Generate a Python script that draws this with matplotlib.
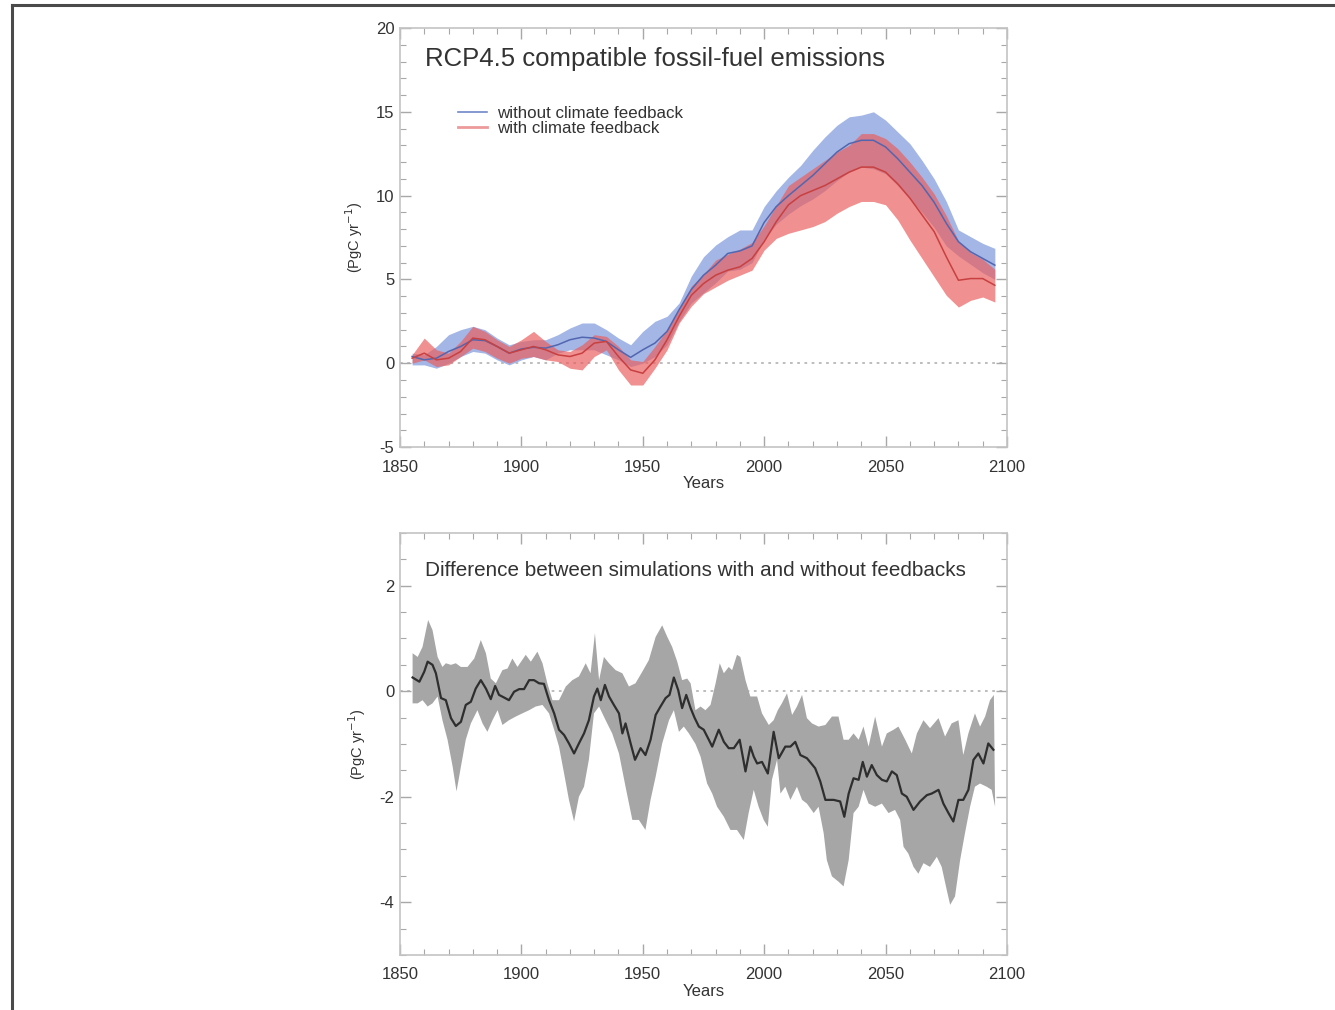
import numpy as np
import matplotlib
matplotlib.use("Agg")
import matplotlib.pyplot as plt
from matplotlib.lines import Line2D
from matplotlib.ticker import MultipleLocator

plt.rcParams['font.family'] = ['Liberation Sans', 'DejaVu Sans']
plt.rcParams['axes.unicode_minus'] = False

# Emisiones compatibles RCP4.5 (PgC/yr), cada 5 años
years = np.arange(1855, 2096, 5)

blue_mean = [0.4, 0.2, 0.3, 0.7, 1.0, 1.4, 1.35, 1.0, 0.6, 0.85,
             0.95, 0.9, 1.1, 1.4, 1.55, 1.5, 1.3, 0.8, 0.35, 0.8,
             1.2, 1.9, 3.2, 4.4, 5.25, 5.85, 6.55, 6.7, 7.0, 8.4,
             9.35, 10.0, 10.6, 11.2, 11.9, 12.6, 13.1, 13.3, 13.3, 12.9,
             12.2, 11.4, 10.6, 9.6, 8.35, 7.25, 6.65, 6.25, 5.85]
blue_hi = [0.6, 0.5, 1.0, 1.7, 2.0, 2.2, 2.0, 1.5, 1.1, 1.3,
           1.4, 1.4, 1.7, 2.1, 2.4, 2.4, 2.0, 1.5, 1.1, 1.9,
           2.5, 2.8, 3.6, 5.2, 6.35, 7.05, 7.55, 7.95, 7.95, 9.35,
           10.3, 11.1, 11.8, 12.7, 13.5, 14.2, 14.7, 14.8, 15.0, 14.5,
           13.8, 13.1, 12.1, 11.0, 9.65, 7.95, 7.55, 7.15, 6.85]
blue_lo = [-0.1, -0.1, -0.3, 0.0, 0.4, 0.7, 0.6, 0.2, -0.1, 0.2,
           0.4, 0.2, 0.6, 0.8, 0.8, 0.8, 0.5, 0.2, -0.2, 0.0,
           0.4, 1.1, 2.5, 3.6, 4.2, 4.8, 5.5, 5.6, 6.0, 7.4,
           8.3, 8.9, 9.4, 9.8, 10.3, 10.9, 11.4, 11.7, 11.6, 11.3,
           10.6, 9.8, 9.0, 8.1, 7.0, 6.4, 5.9, 5.4, 5.0]

red_mean = [0.3, 0.6, 0.2, 0.3, 0.7, 1.5, 1.4, 1.0, 0.6, 0.8,
            1.0, 0.8, 0.5, 0.4, 0.6, 1.2, 1.3, 0.4, -0.4, -0.6,
            0.2, 1.4, 2.8, 4.05, 4.75, 5.25, 5.55, 5.75, 6.25, 7.25,
            8.45, 9.45, 10.0, 10.3, 10.6, 11.0, 11.4, 11.7, 11.7, 11.4,
            10.7, 9.85, 8.85, 7.85, 6.35, 4.95, 5.05, 5.05, 4.65]
red_hi = [0.5, 1.5, 0.8, 0.6, 1.3, 2.2, 1.9, 1.4, 1.0, 1.4,
          1.9, 1.3, 0.8, 0.7, 1.1, 1.7, 1.6, 1.0, 0.2, 0.1,
          1.0, 2.0, 3.2, 4.6, 5.3, 6.15, 6.5, 6.8, 7.2, 8.2,
          9.4, 10.6, 11.1, 11.6, 12.1, 12.6, 13.0, 13.7, 13.7, 13.4,
          12.8, 12.0, 11.1, 10.1, 8.8, 7.3, 6.6, 6.2, 5.6]
red_lo = [0.0, 0.2, -0.2, -0.1, 0.4, 0.9, 0.7, 0.3, 0.0, 0.3,
          0.4, 0.2, 0.1, -0.3, -0.4, 0.4, 0.8, -0.4, -1.3, -1.3,
          -0.3, 0.8, 2.4, 3.4, 4.15, 4.55, 4.95, 5.25, 5.55, 6.75,
          7.45, 7.75, 7.95, 8.15, 8.45, 8.95, 9.35, 9.65, 9.65, 9.45,
          8.55, 7.35, 6.25, 5.15, 4.05, 3.35, 3.75, 3.95, 3.65]

# Diferencia con y sin retroalimentación: media
diff_years = [1855.2, 1858.0, 1860.0, 1861.4, 1863.4, 1864.8, 1866.9, 1868.9, 1871.0, 1873.0,
              1875.1, 1877.1, 1879.2, 1881.2, 1883.3, 1885.4, 1887.4, 1889.2, 1890.8, 1892.9,
              1894.9, 1897.0, 1899.1, 1901.1, 1903.2, 1905.2, 1907.3, 1909.3, 1911.4, 1913.5,
              1915.5, 1917.6, 1919.6, 1921.7, 1923.7, 1925.8, 1927.8, 1929.9, 1931.3, 1932.7,
              1934.4, 1936.1, 1938.1, 1940.2, 1941.6, 1942.9, 1945.0, 1946.8, 1949.1, 1951.1,
              1953.2, 1955.3, 1957.3, 1959.4, 1961.0, 1962.8, 1964.6, 1966.2, 1967.9, 1969.7,
              1971.3, 1973.1, 1975.1, 1977.2, 1978.6, 1981.3, 1983.4, 1985.4, 1987.5, 1989.9,
              1992.3, 1994.3, 1995.7, 1997.1, 1999.1, 2001.5, 2003.9, 2006.0, 2008.7, 2010.8,
              2012.8, 2014.9, 2017.6, 2021.0, 2023.1, 2025.2, 2028.6, 2031.3, 2033.0, 2034.8,
              2036.8, 2038.9, 2040.6, 2042.3, 2044.3, 2046.4, 2048.5, 2050.5, 2052.6, 2054.6,
              2056.7, 2058.7, 2061.5, 2064.2, 2067.0, 2069.0, 2071.8, 2073.8, 2075.9, 2077.9,
              2080.0, 2082.0, 2084.1, 2086.2, 2088.2, 2090.3, 2092.3, 2094.4]
diff_mean = [0.26, 0.18, 0.37, 0.56, 0.50, 0.34, -0.13, -0.17, -0.51, -0.66,
             -0.58, -0.26, -0.20, 0.05, 0.21, 0.05, -0.15, 0.10, -0.07, -0.12,
             -0.17, -0.01, 0.04, 0.04, 0.21, 0.21, 0.15, 0.14, -0.17, -0.42,
             -0.73, -0.83, -0.99, -1.18, -0.99, -0.80, -0.55, -0.10, 0.05, -0.17,
             0.12, -0.10, -0.26, -0.42, -0.80, -0.61, -0.99, -1.30, -1.08, -1.21,
             -0.92, -0.45, -0.29, -0.13, -0.07, 0.26, 0.02, -0.32, -0.07, -0.32,
             -0.50, -0.67, -0.73, -0.92, -1.05, -0.73, -0.96, -1.08, -1.08, -0.92,
             -1.52, -1.05, -1.24, -1.37, -1.34, -1.56, -0.77, -1.27, -1.05, -1.05,
             -0.96, -1.21, -1.27, -1.46, -1.71, -2.06, -2.06, -2.09, -2.38, -1.94,
             -1.65, -1.68, -1.34, -1.62, -1.40, -1.59, -1.68, -1.71, -1.52, -1.59,
             -1.94, -2.00, -2.25, -2.09, -1.97, -1.94, -1.87, -2.13, -2.31, -2.47,
             -2.06, -2.06, -1.87, -1.30, -1.18, -1.37, -0.99, -1.11]

# Borde superior de la banda
up_years = [1855.2, 1857.3, 1859.3, 1861.6, 1863.4, 1865.5, 1867.5, 1868.9, 1871.0, 1873.0,
            1875.1, 1877.8, 1880.6, 1883.3, 1885.4, 1887.4, 1889.5, 1892.2, 1894.3, 1896.3,
            1898.4, 1901.8, 1903.9, 1906.6, 1908.7, 1910.7, 1912.8, 1915.5, 1918.3, 1921.0,
            1923.7, 1926.5, 1928.5, 1930.3, 1932.0, 1934.0, 1936.1, 1938.8, 1941.6, 1944.3,
            1947.0, 1949.8, 1952.5, 1955.3, 1958.0, 1960.1, 1962.1, 1964.2, 1966.2, 1968.3,
            1969.7, 1971.7, 1973.8, 1975.8, 1977.9, 1980.0, 1981.7, 1983.4, 1985.4, 1986.8,
            1988.8, 1990.2, 1992.3, 1994.3, 1997.1, 1999.1, 2001.9, 2003.9, 2005.6, 2007.3,
            2009.4, 2011.5, 2013.5, 2015.6, 2017.6, 2019.7, 2022.4, 2025.2, 2027.9, 2030.6,
            2032.7, 2034.8, 2036.8, 2038.9, 2040.9, 2043.0, 2045.7, 2048.5, 2050.5, 2053.3,
            2055.3, 2058.1, 2060.8, 2062.9, 2065.6, 2068.3, 2071.8, 2074.5, 2077.2, 2080.0,
            2082.0, 2084.1, 2086.8, 2088.9, 2091.0, 2093.0, 2094.6]
diff_hi = [0.72, 0.65, 0.84, 1.35, 1.16, 0.65, 0.46, 0.53, 0.50, 0.53,
           0.46, 0.46, 0.62, 0.97, 0.72, 0.24, 0.15, 0.40, 0.43, 0.62,
           0.46, 0.69, 0.56, 0.75, 0.53, 0.15, -0.17, -0.17, 0.09, 0.21,
           0.28, 0.53, 0.34, 1.10, 0.21, 0.65, 0.53, 0.40, 0.34, 0.09,
           0.15, 0.37, 0.59, 1.03, 1.25, 1.03, 0.84, 0.56, 0.21, 0.24,
           0.15, -0.36, -0.29, -0.36, -0.26, 0.15, 0.53, 0.34, 0.46, 0.40,
           0.69, 0.65, 0.21, -0.10, -0.10, -0.42, -0.64, -0.55, -0.36, -0.23,
           -0.04, -0.45, -0.29, -0.07, -0.51, -0.61, -0.67, -0.64, -0.48, -0.48,
           -0.92, -0.92, -0.80, -0.92, -0.67, -1.05, -0.48, -1.05, -0.80, -0.73,
           -0.67, -0.92, -1.18, -0.80, -0.55, -0.70, -0.51, -0.86, -0.61, -0.55,
           -1.21, -0.80, -0.42, -0.67, -0.48, -0.17, -0.07]

# Borde inferior de la banda
lo_years = [1855.2, 1857.3, 1859.3, 1861.4, 1863.4, 1865.5, 1867.5, 1869.6, 1871.7, 1873.3,
            1875.1, 1877.1, 1879.2, 1881.9, 1884.0, 1886.0, 1888.1, 1890.2, 1892.2, 1894.9,
            1897.7, 1900.4, 1903.2, 1905.9, 1908.7, 1911.4, 1913.5, 1915.5, 1917.6, 1919.6,
            1921.7, 1923.7, 1925.8, 1927.8, 1929.9, 1932.0, 1934.7, 1937.4, 1940.2, 1942.9,
            1945.7, 1948.4, 1951.1, 1953.2, 1955.3, 1958.0, 1960.8, 1962.8, 1964.9, 1966.9,
            1969.0, 1971.7, 1973.8, 1976.5, 1978.6, 1980.6, 1983.4, 1986.1, 1988.8, 1991.6,
            1993.6, 1995.7, 1997.7, 1999.8, 2001.5, 2003.2, 2005.3, 2006.7, 2008.7, 2010.8,
            2013.5, 2015.6, 2017.6, 2020.4, 2022.4, 2024.5, 2025.8, 2027.9, 2030.6, 2032.7,
            2034.8, 2036.8, 2038.9, 2040.9, 2043.0, 2045.7, 2048.5, 2051.2, 2053.9, 2056.0,
            2057.4, 2059.4, 2061.5, 2063.5, 2065.6, 2068.3, 2071.1, 2073.1, 2075.2, 2076.6,
            2078.6, 2080.7, 2082.7, 2084.8, 2086.8, 2088.9, 2091.6, 2093.7, 2095.1]
diff_lo = [-0.23, -0.23, -0.17, -0.29, -0.23, -0.10, -0.55, -0.92, -1.43, -1.90,
           -1.43, -0.92, -0.61, -0.36, -0.61, -0.77, -0.55, -0.36, -0.64, -0.55,
           -0.48, -0.42, -0.36, -0.29, -0.26, -0.42, -0.73, -1.05, -1.56, -2.06,
           -2.47, -2.00, -1.81, -1.30, -0.42, -0.29, -0.55, -0.80, -1.18, -1.81,
           -2.44, -2.44, -2.63, -2.06, -1.62, -0.99, -0.55, -0.36, -0.77, -0.67,
           -0.80, -1.00, -1.24, -1.75, -1.94, -2.19, -2.38, -2.63, -2.63, -2.82,
           -2.31, -1.87, -2.19, -2.44, -2.57, -1.68, -1.30, -1.94, -1.81, -2.06,
           -1.81, -2.06, -2.13, -2.31, -2.19, -2.69, -3.20, -3.51, -3.61, -3.70,
           -3.20, -2.31, -2.19, -1.87, -2.13, -2.19, -2.13, -2.31, -2.25, -2.44,
           -2.95, -3.08, -3.33, -3.46, -3.26, -3.33, -3.14, -3.33, -3.77, -4.05,
           -3.89, -3.20, -2.69, -2.19, -1.81, -1.75, -1.81, -1.87, -2.19]

FRAME = '#c4c4c4'
TICKS = '#a8a8a8'
TXT = '#333333'


def estilo(ax, ymin, ymax, ymaj, ymin_step):
    ax.set_xlim(1850, 2100)
    ax.set_ylim(ymin, ymax)
    ax.xaxis.set_major_locator(MultipleLocator(50))
    ax.xaxis.set_minor_locator(MultipleLocator(10))
    ax.yaxis.set_major_locator(MultipleLocator(ymaj))
    ax.yaxis.set_minor_locator(MultipleLocator(ymin_step))
    ax.tick_params(which='both', direction='in', top=True, right=True,
                   color=TICKS, labelcolor=TXT, labelsize=12)
    ax.tick_params(axis='x', pad=9)
    ax.tick_params(axis='y', pad=4)
    ax.tick_params(which='major', length=8, width=1)
    ax.tick_params(which='minor', length=4, width=0.8)
    for s in ax.spines.values():
        s.set_color(FRAME)
        s.set_linewidth(1.2)
    ax.axhline(0, color='#b8b8b8', lw=1.3, ls=(0, (1.5, 2.5)), zorder=1)
    ax.set_xlabel('Years', fontsize=12, color=TXT, labelpad=1)
    ax.set_ylabel('(PgC yr$^{-1}$)', fontsize=10.5, color=TXT, labelpad=8)


fig = plt.figure(figsize=(13.35, 10.10), dpi=100)

# Panel superior
ax1 = fig.add_axes([0.2996, 0.5574, 0.4547, 0.4149])
estilo(ax1, -5, 20, 5, 1)
ax1.fill_between(years, blue_lo, blue_hi, color='#a3b6e6', lw=0, zorder=2)
ax1.fill_between(years, red_lo, red_hi, color='#ea5c5c', alpha=0.68, lw=0, zorder=3)
ax1.plot(years, blue_mean, color='#5266b0', lw=1.1, zorder=4)
ax1.plot(years, red_mean, color='#c84040', lw=1.1, zorder=4)
ax1.text(0.041, 0.925, 'RCP4.5 compatible fossil-fuel emissions', transform=ax1.transAxes,
         fontsize=18.5, color=TXT, va='center', ha='left')
handles = [Line2D([], [], color='#7088c8', lw=1.2),
           Line2D([], [], color='#ec9a9a', lw=2.0)]
ax1.legend(handles, ['without climate feedback', 'with climate feedback'],
           loc='upper left', bbox_to_anchor=(0.07, 0.85), frameon=False,
           fontsize=12.2, handlelength=1.75, handletextpad=0.6, labelspacing=0.0,
           labelcolor=TXT)

# Panel inferior
ax2 = fig.add_axes([0.2996, 0.0545, 0.4547, 0.4178])
estilo(ax2, -5, 3, 2, 0.5)
ax2.fill(np.concatenate([up_years, lo_years[::-1]]),
         np.concatenate([diff_hi, diff_lo[::-1]]),
         color='#a6a6a6', lw=0, zorder=2)
ax2.plot(diff_years, diff_mean, color='#2e2e2e', lw=1.6, zorder=4)
ax2.text(0.041, 0.912, 'Difference between simulations with and without feedbacks',
         transform=ax2.transAxes, fontsize=14.9, color=TXT, va='center', ha='left')

# Marco de la captura
fig.add_artist(Line2D([0.009, 1.0], [0.995, 0.995], color='#4a4a4a', lw=2.2,
                      transform=fig.transFigure))
fig.add_artist(Line2D([0.009, 0.009], [0.0, 0.995], color='#4a4a4a', lw=2.2,
                      transform=fig.transFigure))

fig.savefig('out.png', dpi=100)
